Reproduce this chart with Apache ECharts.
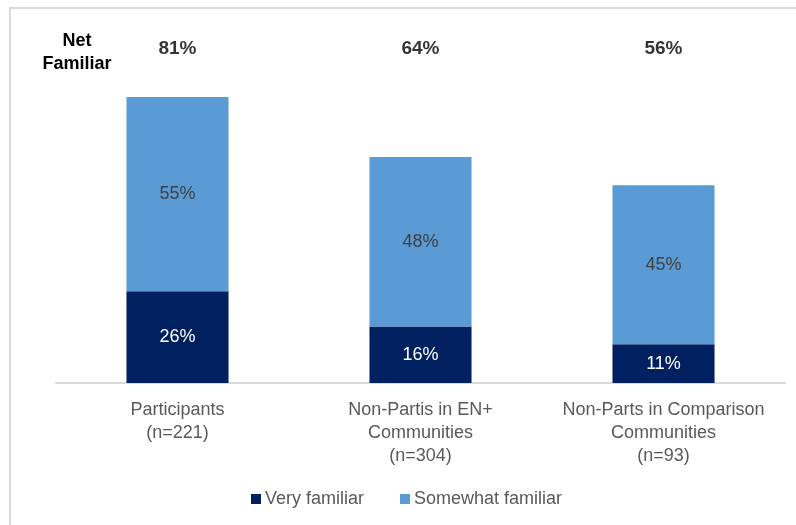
<!DOCTYPE html>
<html>
<head>
<meta charset="utf-8">
<script src="https://cdn.jsdelivr.net/npm/echarts@6/dist/echarts.min.js"></script>
<style>
  html, body { margin: 0; padding: 0; background: #fff; }
  #chart { width: 796px; height: 525px; }
</style>
</head>
<body>
<div id="chart"></div>
<script>
// Groups surveyed and their familiarity shares (%)
const categories = [
  'Participants\n(n=221)',
  'Non-Partis in EN+\nCommunities\n(n=304)',
  'Non-Parts in Comparison\nCommunities\n(n=93)'
];
const veryFamiliar = [26, 16, 11];
const somewhatFamiliar = [55, 48, 45];
const netFamiliar = [81, 64, 56];
// height on the value axis where the net row sits
const netRowLevel = 94.8;

const FONT = '"Liberation Sans", Arial, sans-serif';

const chart = echarts.init(document.getElementById('chart'));
chart.setOption({
  animation: false,
  backgroundColor: '#fff',
  grid: { left: 56, right: 11, top: 30, bottom: 142, containLabel: false },
  xAxis: {
    type: 'category',
    data: categories,
    axisLine: { lineStyle: { color: '#d9d9d9', width: 2 } },
    axisTick: { show: false },
    axisLabel: {
      color: '#595959', fontSize: 18, fontFamily: FONT,
      lineHeight: 23, margin: 16, interval: 0
    }
  },
  yAxis: {
    type: 'value', min: 0, max: 100,
    show: false, splitLine: { show: false }
  },
  legend: {
    bottom: 12, left: 246,
    itemWidth: 10, itemHeight: 10, itemGap: 36,
    icon: 'rect',
    textStyle: { color: '#595959', fontSize: 18, fontFamily: FONT, padding: [0, 0, 0, -1] },
    data: ['Very familiar', 'Somewhat familiar']
  },
  series: [
    {
      name: 'Very familiar', type: 'bar', stack: 'fam',
      data: veryFamiliar, barWidth: '42%',
      itemStyle: { color: '#002060' },
      label: {
        show: true, position: 'inside', color: '#ffffff',
        fontSize: 18, fontFamily: FONT, formatter: p => p.value + '%'
      }
    },
    {
      name: 'Somewhat familiar', type: 'bar', stack: 'fam',
      data: somewhatFamiliar, barWidth: '42%',
      itemStyle: { color: '#5b9bd5' },
      label: {
        show: true, position: 'inside', color: '#404040',
        fontSize: 18, fontFamily: FONT, formatter: p => p.value + '%'
      }
    },
    {
      name: 'Net familiar', type: 'scatter',
      data: netFamiliar.map((v, i) => ({ value: [i, netRowLevel], net: v })),
      symbolSize: 0,
      silent: true,
      label: {
        show: true, position: 'inside', color: '#000000',
        fontSize: 19, fontWeight: 'bold', fontFamily: FONT,
        formatter: p => p.data.net + '%'
      }
    }
  ],
  graphic: [
    {
      type: 'rect', silent: true, z: -1,
      shape: { x: 10, y: 8, width: 800, height: 530 },
      style: { fill: 'none', stroke: '#d9d9d9', lineWidth: 2 }
    },
    {
      type: 'text', x: 77, y: 30,
      style: {
        text: 'Net\nFamiliar', fill: '#000', fontSize: 18, fontWeight: 'bold',
        fontFamily: FONT, lineHeight: 23, align: 'center'
      }
    }
  ]
});
</script>
</body>
</html>
